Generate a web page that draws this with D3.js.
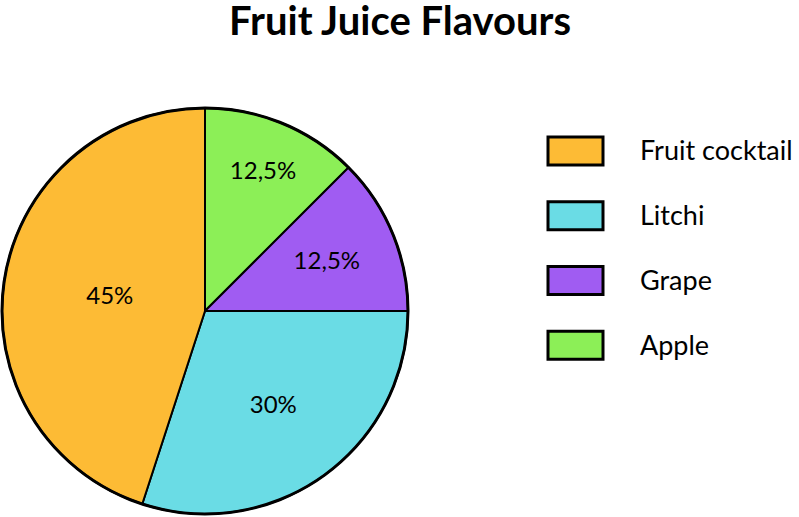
<!DOCTYPE html>
<html>
<head>
<meta charset="utf-8">
<script src="https://cdn.jsdelivr.net/npm/d3@7"></script>
<style>
  body { margin: 0; background: #fff; }
  svg { display: block; font-family: Lato, "Open Sans", sans-serif; }
</style>
</head>
<body>
<div id="chart"></div>
<script>
// pie of juice flavours, slices drawn clockwise from 12 o'clock
const title = "Fruit Juice Flavours";
const flavours = ["Apple", "Grape", "Litchi", "Fruit cocktail"];
const shares = [12.5, 12.5, 30, 45];
const colours = ["#8cef57", "#a05cf2", "#6adce5", "#fdbb35"];
const labels = ["12,5%", "12,5%", "30%", "45%"];
const legendOrder = ["Fruit cocktail", "Litchi", "Grape", "Apple"];

const width = 799, height = 517;
const cx = 205, cy = 311, r = 203;

let svg = d3.select("#chart").append("svg")
    .attr("width", width)
    .attr("height", height);

svg.append("text")
    .attr("x", 400)
    .attr("y", 35)
    .attr("text-anchor", "middle")
    .style("font-size", "40px")
    .style("font-weight", "bold")
    .text(title);

let data = flavours.map((f, i) => ({ name: f, value: shares[i], colour: colours[i], label: labels[i] }));

let pie = d3.pie().sort(null).value(d => d.value);
let arc = d3.arc().innerRadius(0).outerRadius(r);
let arcs = pie(data);

let g = svg.append("g").attr("transform", "translate(" + cx + "," + cy + ")");

g.selectAll("path.slice")
    .data(arcs)
    .enter()
    .append("path")
    .attr("class", "slice")
    .attr("d", arc)
    .attr("fill", d => d.data.colour)
    .attr("stroke", "#000")
    .attr("stroke-width", 2)
    .attr("stroke-linejoin", "round");

g.append("circle")
    .attr("r", r)
    .attr("fill", "none")
    .attr("stroke", "#000")
    .attr("stroke-width", 3);

// label at the sector's area centroid (apple one sits a bit further out)
const nudge = { "Apple": 1.15, "Fruit cocktail": 1.02 };
g.selectAll("text.lbl")
    .data(arcs)
    .enter()
    .append("text")
    .attr("class", "lbl")
    .attr("text-anchor", "middle")
    .attr("dy", "0.35em")
    .style("font-size", "24px")
    .attr("transform", d => {
        let th = d.endAngle - d.startAngle;
        let mid = (d.startAngle + d.endAngle) / 2;
        let dist = 2 * r * Math.sin(th / 2) / (3 * th / 2) * (nudge[d.data.name] || 1);
        return "translate(" + (dist * Math.sin(mid)) + "," + (-dist * Math.cos(mid)) + ")";
    })
    .text(d => d.data.label);

// legend
let ly = d3.scaleBand().domain(legendOrder).range([137, 396]);
let colourOf = d3.scaleOrdinal().domain(flavours).range(colours);

let legend = svg.append("g");
let items = legend.selectAll("g")
    .data(legendOrder)
    .enter()
    .append("g")
    .attr("transform", d => "translate(548," + ly(d) + ")");

items.append("rect")
    .attr("width", 55)
    .attr("height", 28)
    .attr("fill", d => colourOf(d))
    .attr("stroke", "#000")
    .attr("stroke-width", 3);

items.append("text")
    .attr("x", 92)
    .attr("y", 14)
    .attr("dy", "0.35em")
    .style("font-size", "27px")
    .text(d => d);
</script>
</body>
</html>
